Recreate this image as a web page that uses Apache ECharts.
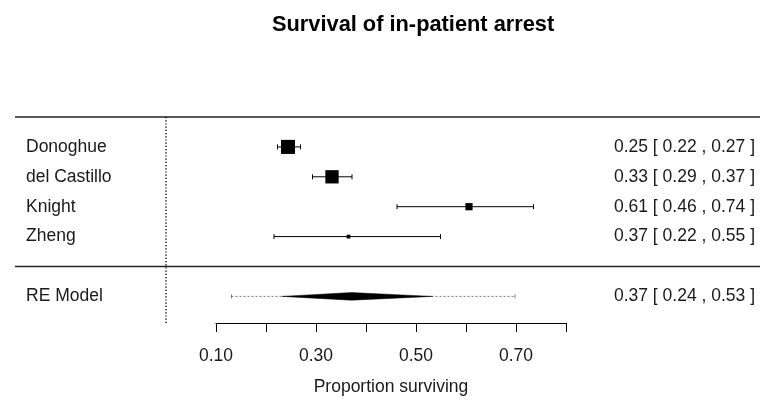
<!DOCTYPE html>
<html>
<head>
<meta charset="utf-8">
<script src="https://cdn.jsdelivr.net/npm/echarts@6/dist/echarts.min.js"></script>
<style>
html,body{margin:0;padding:0;background:#fff;}
#chart{width:760px;height:401px;}
</style>
</head>
<body>
<div id="chart"></div>
<script>
// ---- data ----
const studies = ['Donoghue', 'del Castillo', 'Knight', 'Zheng'];
const estimates = [0.244, 0.332, 0.606, 0.365];
const ciLower = [0.223, 0.293, 0.462, 0.216];
const ciUpper = [0.269, 0.372, 0.735, 0.549];
const weights = [37, 35, 19, 10];            // relative weights (%)
const ciLabels = ['0.25 [ 0.22 , 0.27 ]', '0.33 [ 0.29 , 0.37 ]', '0.61 [ 0.46 , 0.74 ]', '0.37 [ 0.22 , 0.55 ]'];
const modelName = 'RE Model';
const modelEstimate = [0.371];
const modelCI = [0.232, 0.533];
const predictionInterval = [0.131, 0.698];
const modelLabel = '0.37 [ 0.24 , 0.53 ]';
const axisTicks = [0.1, 0.2, 0.3, 0.4, 0.5, 0.6, 0.7, 0.8];
const tickLabels = ['0.10', '0.30', '0.50', '0.70'];
const refValue = 0;

// ---- layout helpers ----
const FONT = 'Liberation Sans';
const FS = 17.5;
const TXT = '#1a1a1a';
const nRows = studies.length;
const topRow = nRows + 3;      // header separator
const sepRow = 2;              // separator above model
const modelRow = 1;
const fontStr = FS + 'px "' + FONT + '"';

const chart = echarts.init(document.getElementById('chart'));

const studyData = studies.map((s, i) => [estimates[i], nRows + 2 - i, ciLower[i], ciUpper[i], weights[i], i]);

function studyItem(params, api) {
  const i = api.value(5);
  const p = api.coord([api.value(0), api.value(1)]);
  const lo = api.coord([api.value(2), api.value(1)]);
  const hi = api.coord([api.value(3), api.value(1)]);
  const side = api.value(4) * 0.38;
  const W = api.getWidth();
  const ls = {stroke: '#000', lineWidth: 1};
  return {
    type: 'group',
    children: [
      {type: 'line', shape: {x1: lo[0], y1: p[1], x2: hi[0], y2: p[1]}, style: ls},
      {type: 'line', shape: {x1: lo[0], y1: p[1] - 2.5, x2: lo[0], y2: p[1] + 2.5}, style: ls},
      {type: 'line', shape: {x1: hi[0], y1: p[1] - 2.5, x2: hi[0], y2: p[1] + 2.5}, style: ls},
      {type: 'rect', shape: {x: p[0] - side / 2, y: p[1] - side / 2, width: side, height: side}, style: {fill: '#000'}},
      {type: 'text', x: 26, y: p[1], style: {text: studies[i], font: fontStr, fill: TXT, align: 'left', verticalAlign: 'middle'}},
      {type: 'text', x: W - 5, y: p[1], style: {text: ciLabels[i], font: fontStr, fill: TXT, align: 'right', verticalAlign: 'middle'}}
    ]
  };
}

function modelItem(params, api) {
  const y = api.coord([0, modelRow])[1];
  const c = api.coord([api.value(0), modelRow]);
  const lo = api.coord([modelCI[0], modelRow]);
  const hi = api.coord([modelCI[1], modelRow]);
  const plo = api.coord([predictionInterval[0], modelRow]);
  const phi = api.coord([predictionInterval[1], modelRow]);
  const W = api.getWidth();
  const h = 3.8;
  const pis = {stroke: '#7a7a7a', lineWidth: 1, lineDash: [2, 2]};
  return {
    type: 'group',
    children: [
      {type: 'line', shape: {x1: plo[0], y1: y, x2: phi[0], y2: y}, style: pis},
      {type: 'line', shape: {x1: plo[0], y1: y - 2, x2: plo[0], y2: y + 2}, style: {stroke: '#7a7a7a', lineWidth: 1}},
      {type: 'line', shape: {x1: phi[0], y1: y - 2, x2: phi[0], y2: y + 2}, style: {stroke: '#7a7a7a', lineWidth: 1}},
      {type: 'polygon', shape: {points: [[lo[0], y], [c[0], y - h], [hi[0], y], [c[0], y + h]]}, style: {fill: '#000', stroke: '#000', lineWidth: 0.5}},
      {type: 'text', x: 26, y: y, style: {text: modelName, font: fontStr, fill: TXT, align: 'left', verticalAlign: 'middle'}},
      {type: 'text', x: W - 5, y: y, style: {text: modelLabel, font: fontStr, fill: TXT, align: 'right', verticalAlign: 'middle'}}
    ]
  };
}

function frameItem(params, api) {
  const W = api.getWidth();
  const yTop = api.coord([0, topRow])[1];
  const ySep = api.coord([0, sepRow])[1];
  const ref = api.coord([refValue, topRow]);
  const refBottom = api.coord([refValue, 0.11]);
  const sl = {stroke: '#222', lineWidth: 1.4};
  return {
    type: 'group',
    children: [
      {type: 'line', shape: {x1: 15, y1: yTop, x2: W, y2: yTop}, style: sl},
      {type: 'line', shape: {x1: 15, y1: ySep, x2: W, y2: ySep}, style: sl},
      {type: 'line', shape: {x1: ref[0], y1: yTop, x2: ref[0], y2: refBottom[1]}, style: {stroke: '#000', lineWidth: 1.4, lineDash: [1.2, 2]}}
    ]
  };
}

const option = {
  backgroundColor: '#fff',
  animation: false,
  title: {
    text: 'Survival of in-patient arrest',
    left: 272,
    top: 14,
    padding: 0,
    textStyle: {fontFamily: FONT, fontSize: 21.8, fontWeight: 'bold', color: '#000'}
  },
  grid: {left: 216, right: 194, top: 117, bottom: 76, containLabel: false},
  xAxis: {
    type: 'value',
    min: axisTicks[0],
    max: axisTicks[axisTicks.length - 1],
    interval: 0.1,
    position: 'bottom',
    axisLine: {show: true, lineStyle: {color: '#000', width: 1}},
    axisTick: {show: true, inside: false, length: 9, lineStyle: {color: '#000', width: 1}},
    axisLabel: {
      margin: 24,
      fontFamily: FONT, fontSize: FS, color: TXT,
      formatter: v => { const s = v.toFixed(2); return tickLabels.includes(s) ? s : ''; },
      showMinLabel: true, showMaxLabel: true, hideOverlap: false
    },
    splitLine: {show: false},
    name: 'Proportion surviving',
    nameLocation: 'middle',
    nameGap: 55,
    nameTextStyle: {fontFamily: FONT, fontSize: FS, color: TXT}
  },
  yAxis: {
    type: 'value', min: 0.11, max: topRow, show: false,
    splitLine: {show: false}
  },
  series: [
    {type: 'custom', renderItem: frameItem, data: [[0, 0]], clip: false, silent: true},
    {type: 'custom', renderItem: studyItem, data: studyData, clip: false, silent: true},
    {type: 'custom', renderItem: modelItem, data: [[modelEstimate[0], modelRow]], clip: false, silent: true}
  ]
};
chart.setOption(option);
</script>
</body>
</html>
